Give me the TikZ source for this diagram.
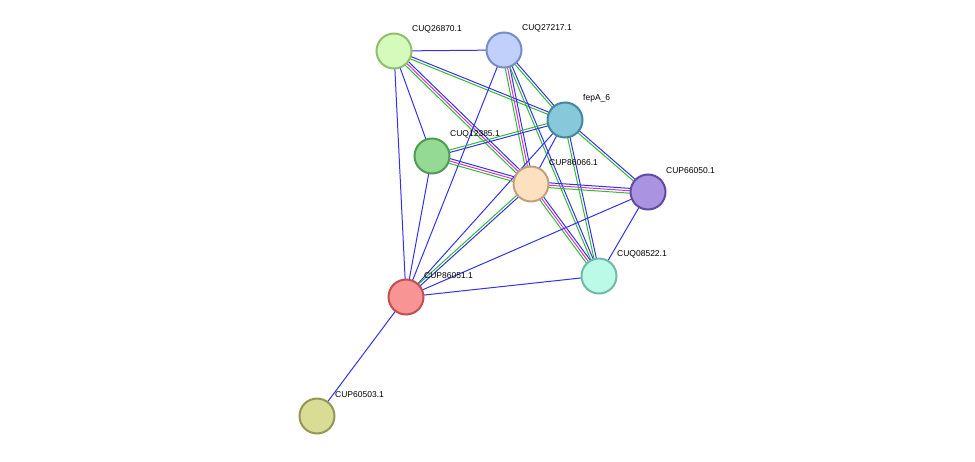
\documentclass[tikz,border=0pt]{standalone}
\usepackage{fontspec}
\setmainfont{Liberation Sans}
\usetikzlibrary{calc}
\definecolor{eb}{HTML}{3333E6}
\definecolor{eg}{HTML}{33BB33}
\definecolor{em}{HTML}{D633D6}
\tikzset{
  prot/.style={circle,minimum size=35pt,inner sep=0pt,line width=2pt},
  lab/.style={anchor=south west,font=\fontsize{8.5pt}{9pt}\selectfont,inner sep=0pt},
  edg/.style={line width=1pt}
}
\newcommand\ed[3]{\foreach \c/\o in {#3}{\draw[edg,\c] ($(#1)!\o pt!90:(#2)$) -- ($(#2)!\o pt!-90:(#1)$);}}
\begin{document}
\begin{tikzpicture}[x=1pt,y=-1pt]
\useasboundingbox (0,0) rectangle (975,461);
\coordinate (a) at (394,51);
\coordinate (b) at (504,50);
\coordinate (f) at (565,120);
\coordinate (c) at (432,156);
\coordinate (m) at (531,184);
\coordinate (g) at (648,192);
\coordinate (q) at (599,276);
\coordinate (r) at (406,297);
\coordinate (p) at (317,416);
\ed{a}{b}{eb/0}
\ed{a}{f}{eg/-1.2,eb/1.2}
\ed{a}{c}{eb/0}
\ed{a}{m}{eg/-2.4,em/0,eb/2.4}
\ed{a}{r}{eb/0}
\ed{b}{f}{eg/-1.2,eb/1.2}
\ed{b}{m}{eg/-2.4,em/0,eb/2.4}
\ed{b}{q}{eg/-1.2,eb/1.2}
\ed{b}{r}{eb/0}
\ed{f}{c}{eg/-1.2,eb/1.2}
\ed{f}{m}{eb/0}
\ed{f}{g}{eg/-1.2,eb/1.2}
\ed{f}{q}{eg/-1.2,eb/1.2}
\ed{f}{r}{eb/0}
\ed{c}{m}{eg/-2.4,em/0,eb/2.4}
\ed{c}{r}{eb/0}
\ed{m}{g}{eg/-2.4,em/0,eb/2.4}
\ed{m}{q}{eg/-2.4,em/0,eb/2.4}
\ed{m}{r}{eg/-1.2,eb/1.2}
\ed{g}{q}{eb/0}
\ed{g}{r}{eb/0}
\ed{q}{r}{eb/0}
\ed{r}{p}{eb/0}
\node[prot,fill={rgb,255:red,214;green,250;blue,188},draw={rgb,255:red,143;green,192;blue,110}] (na) at (a) {};
\node[prot,fill={rgb,255:red,192;green,208;blue,250},draw={rgb,255:red,120;green,140;blue,200}] (nb) at (b) {};
\node[prot,fill={rgb,255:red,135;green,200;blue,218},draw={rgb,255:red,70;green,135;blue,160}] (nf) at (f) {};
\node[prot,fill={rgb,255:red,148;green,218;blue,148},draw={rgb,255:red,80;green,155;blue,85}] (nc) at (c) {};
\node[prot,fill={rgb,255:red,253;green,224;blue,192},draw={rgb,255:red,195;green,160;blue,125}] (nm) at (m) {};
\node[prot,fill={rgb,255:red,170;green,148;blue,225},draw={rgb,255:red,95;green,75;blue,160}] (ng) at (g) {};
\node[prot,fill={rgb,255:red,188;green,250;blue,232},draw={rgb,255:red,115;green,185;blue,170}] (nq) at (q) {};
\node[prot,fill={rgb,255:red,248;green,148;blue,148},draw={rgb,255:red,190;green,80;blue,80}] (nr) at (r) {};
\node[prot,fill={rgb,255:red,216;green,220;blue,148},draw={rgb,255:red,150;green,150;blue,85}] (np) at (p) {};
\node[lab] at (412,33) {CUQ26870.1};
\node[lab] at (522,32) {CUQ27217.1};
\node[lab] at (583,102) {fepA\_6};
\node[lab] at (450,138) {CUQ12385.1};
\node[lab] at (549,166) {CUP86066.1};
\node[lab] at (666,174) {CUP66050.1};
\node[lab] at (617,258) {CUQ08522.1};
\node[lab] at (424,279) {CUP86051.1};
\node[lab] at (335,398) {CUP60503.1};
\end{tikzpicture}
\end{document}
